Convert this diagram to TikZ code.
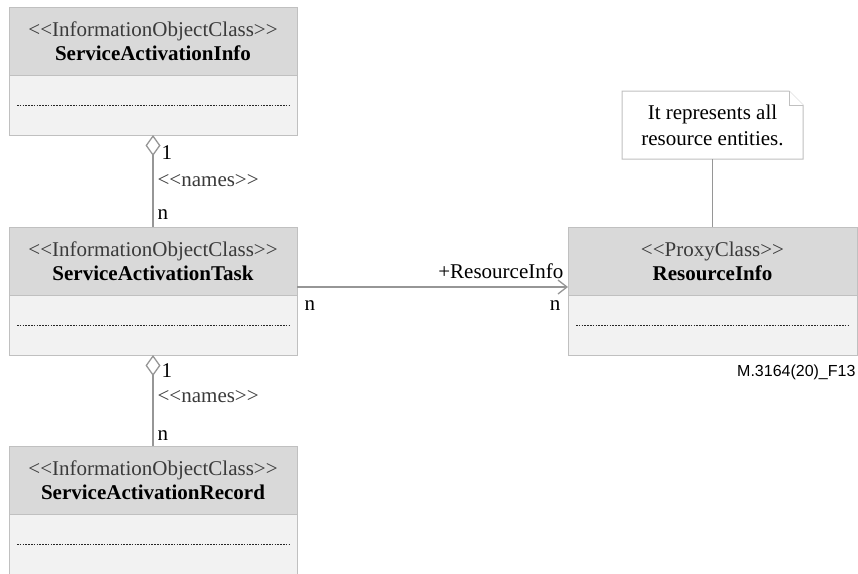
\documentclass[tikz,border=0pt]{standalone}
\usepackage{fontspec}
\setmainfont{Liberation Serif}
\newfontfamily\figidfont{Liberation Sans}
\usetikzlibrary{arrows.meta,shapes,positioning}
\definecolor{headgray}{HTML}{D9D9D9}
\definecolor{bodygray}{HTML}{F2F2F2}
\definecolor{edgegray}{HTML}{C0C0C0}
\definecolor{linkgray}{HTML}{969696}
\definecolor{stereogray}{HTML}{3A3A3A}
\newcommand{\stereo}[1]{{\color{stereogray}<{}<#1>{}>}}
\tikzset{
    basic/.style      = {draw=edgegray, rectangle, line width=1pt, outer sep=0pt, inner sep=0pt, minimum width=288pt},
    class head/.style = {basic, fill=headgray, minimum height=68pt, align=center, font=\fontsize{21}{24}\selectfont},
    class body/.style = {basic, fill=bodygray, minimum height=60pt},
    sep line/.style   = {draw=black!85, line width=0.9pt, dash pattern=on 1.6pt off 1.2pt},
    link/.style       = {draw=linkgray, line width=1.3pt},
    mult/.style       = {font=\fontsize{21}{24}\selectfont, inner sep=4pt, text height=14pt, text depth=4pt},
    note/.style       = {rectangle, minimum width=181pt, minimum height=68pt, outer sep=0pt, align=center, font=\fontsize{21}{26}\selectfont},
    note line/.style  = {draw=edgegray, line width=1pt, fill=white}
}
\begin{document}
\begin{tikzpicture}[x=1pt,y=-1pt]
    \useasboundingbox (0,0) rectangle (858,573);
    % classes
    \node[class head] (sai) at (153,41) {\stereo{InformationObjectClass}\\ \textbf{ServiceActivationInfo}};
    \node[class body, below=0pt of sai] (saib) {};
    \node[class head] (sat) at (153,261) {\stereo{InformationObjectClass}\\ \textbf{ServiceActivationTask}};
    \node[class body, below=0pt of sat] (satb) {};
    \node[class head] (sar) at (153,480) {\stereo{InformationObjectClass}\\ \textbf{ServiceActivationRecord}};
    \node[class body, below=0pt of sar] (sarb) {};
    \node[class head, minimum width=289pt] (ri) at (712.5,261) {\stereo{ProxyClass}\\ \textbf{ResourceInfo}};
    \node[class body, minimum width=289pt, below=0pt of ri] (rib) {};
    \foreach \b in {saib,satb,sarb,rib}
        \draw[sep line] ([xshift=8pt]\b.west) -- ([xshift=-8pt]\b.east);

    % note
    \node[note] (nt) at (712.5,125) {};
    \draw[note line] (nt.north west) -- ([xshift=-14pt]nt.north east) -- ([yshift=-14pt]nt.north east)
        -- (nt.south east) -- (nt.south west) -- cycle;
    \draw[note line] ([xshift=-14pt]nt.north east) |- ([yshift=-14pt]nt.north east);
    \node[note] (ntx) at (nt) {It represents all\\resource entities.};
    \draw[link] (nt.south) -- (ri.north);

    % aggregations
    \draw[link, {Diamond[open,length=21pt,width=15pt]}-] (saib.south) -- (sat.north)
        node[mult, right, pos=0.21, xshift=4pt] {1}
        node[mult, right, pos=0.50] {\stereo{names}}
        node[mult, right, pos=0.86] {n};
    \draw[link, {Diamond[open,length=21pt,width=15pt]}-] (satb.south) -- (sar.north)
        node[mult, right, pos=0.19, xshift=4pt] {1}
        node[mult, right, pos=0.47] {\stereo{names}}
        node[mult, right, pos=0.88] {n};

    % association
    \draw[link, -{Straight Barb[length=9pt,width=14pt]}] ([yshift=8pt]sat.south east) -- ([yshift=8pt]ri.south west)
        node[mult, pos=1, above left] {+ResourceInfo}
        node[mult, pos=0, below right, xshift=3pt, yshift=-5pt] {n}
        node[mult, pos=1, below left, xshift=-3pt, yshift=-5pt] {n};

    \node[font=\figidfont\fontsize{16}{18}\selectfont, anchor=base east] (fid) at (859,376) {M.3164(20)\_F13};
\end{tikzpicture}
\end{document}
